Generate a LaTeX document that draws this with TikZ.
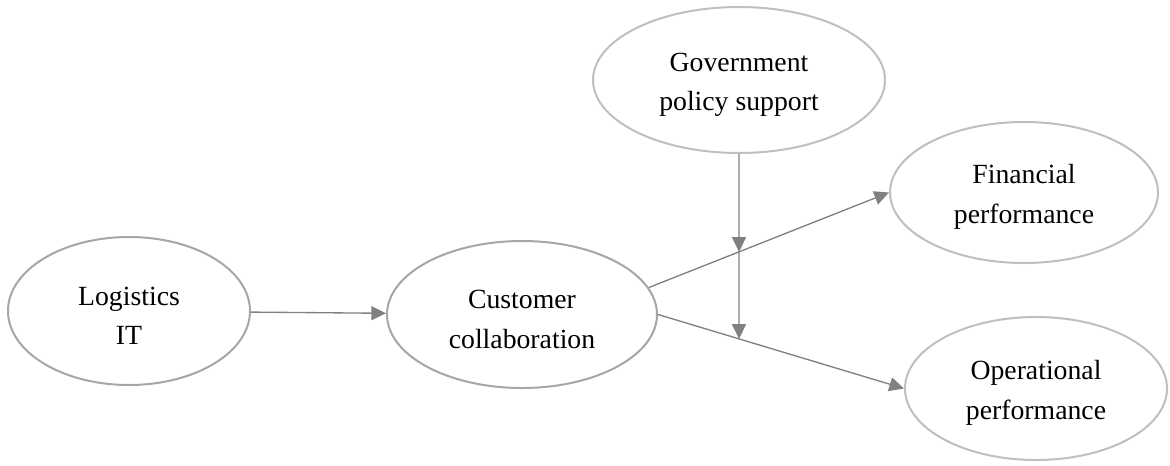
\documentclass[tikz,border=0pt]{standalone}
\usepackage{fontspec}
\setmainfont{Liberation Serif}
\usetikzlibrary{shapes.geometric,arrows.meta}
\definecolor{rimdark}{HTML}{A6A6A6}
\definecolor{rimlight}{HTML}{BFBFBF}
\definecolor{linkgray}{HTML}{808080}
% taller first line so the two-line labels sit a little lower in the ellipse
\newcommand\liftline{\rule{0pt}{21pt}}
\begin{document}
\begin{tikzpicture}[x=0.75pt,y=-0.75pt,
  construct/.style={ellipse, draw=rimlight, line width=1.5pt, inner sep=0pt,
    align=center, font=\fontsize{20.8}{29.6}\selectfont},
  link/.style={draw=linkgray, line width=1pt,
    -{Triangle[length=11pt,width=10.5pt]}}
]
\useasboundingbox (0,0) rectangle (1170,465);

% constructs
\node[construct, draw=rimdark, minimum width=242*0.75pt, minimum height=148*0.75pt]
  (log) at (129,311) {\liftline Logistics\\IT};
\node[construct, draw=rimdark, minimum width=270*0.75pt, minimum height=147*0.75pt]
  (cust) at (522,314.5) {\liftline Customer\\collaboration};
\node[construct, minimum width=292*0.75pt, minimum height=146*0.75pt]
  (gov) at (739,80) {\liftline Government\\policy support};
\node[construct, minimum width=268*0.75pt, minimum height=141*0.75pt]
  (fin) at (1024,192.5) {\liftline Financial\\performance};
\node[construct, minimum width=262*0.75pt, minimum height=143*0.75pt]
  (op) at (1036,388.5) {\liftline Operational\\performance};

% direct paths
\draw[link] (log) -- (cust);
\draw[link] (cust.12) -- (fin.west);
\draw[link] (cust.east) -- (op.west);

% moderation by policy support
\coordinate (m1) at (intersection of gov.south--gov.center and cust.12--fin.west);
\coordinate (m2) at (intersection of gov.south--gov.center and cust.east--op.west);
\draw[link] (gov.south) -- (m1);
\draw[link] (m1) -- (m2);
\end{tikzpicture}
\end{document}
